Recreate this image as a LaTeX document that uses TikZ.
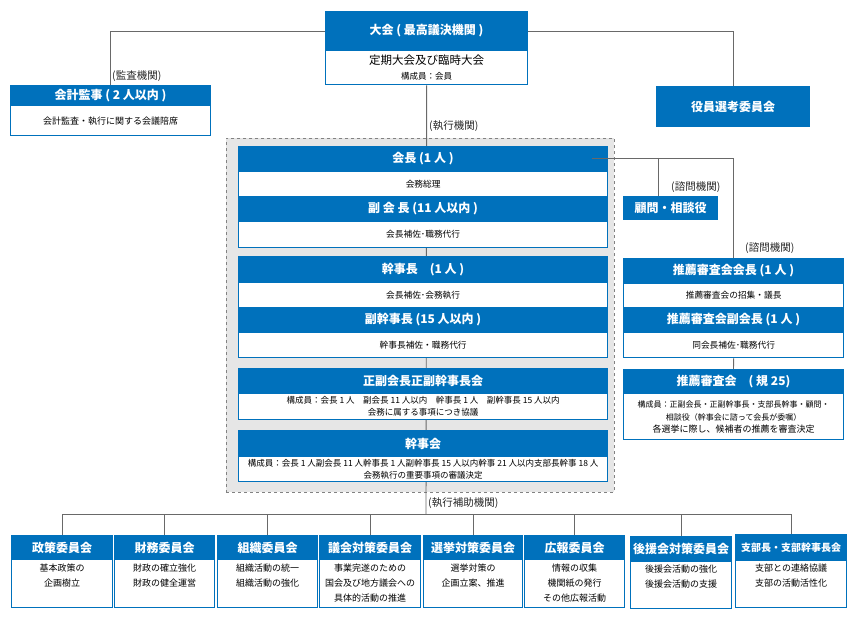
\documentclass[tikz,border=0pt]{standalone}
\usepackage{fontspec}
\setmainfont{Noto Sans CJK JP}
\definecolor{bl}{RGB}{0,113,188}
\definecolor{ln}{RGB}{105,105,105}
\definecolor{gr}{RGB}{230,230,230}
\definecolor{dl}{RGB}{130,130,130}
\begin{document}
\begin{tikzpicture}[x=1pt,y=-1pt,
  hdr/.style={rectangle, fill=bl, draw=bl, line width=1pt, text=white, inner sep=0pt, anchor=north west, font=\bfseries\fontsize{12}{14}\selectfont},
  bdy/.style={rectangle, fill=white, draw=bl, line width=1.3pt, inner sep=0pt, anchor=north west, align=center, font=\fontsize{8.7}{13}\selectfont},
  txt/.style={inner sep=0pt, align=center, anchor=north, font=\fontsize{9}{15}\selectfont},
  conn/.style={draw=ln, line width=0.9pt},
  lbl/.style={inner sep=0pt, anchor=west, font=\fontsize{10.5}{12}\selectfont, text=black!85}]
\useasboundingbox (0,0) rectangle (850,620);
\fill[white] (0,0) rectangle (850,620);

% grey executive area
\node[rectangle, fill=gr, draw=dl, dashed, line width=0.8pt, minimum width=388pt, minimum height=354pt, anchor=north west, inner sep=0pt] (exec) at (226,138) {};

% ---- top: 大会
\node[hdr, minimum width=202pt, minimum height=39pt] (taiH) at (325,11) {大会 ( 最高議決機関 )};
\node[bdy, minimum width=202pt, minimum height=34pt] (taiB) at (325,50) {{\fontsize{11.5}{15}\selectfont 定期大会及び臨時大会}\\[2pt]{\fontsize{8.5}{10}\selectfont 構成員：会員}};

% ---- audit
\node[hdr, minimum width=200pt, minimum height=20pt] (audH) at (10,85) {会計監事 ( 2 人以内 )};
\node[bdy, minimum width=200pt, minimum height=30pt, font=\fontsize{9}{12}\selectfont] (audB) at (10,105) {会計監査・執行に関する会議陪席};

% ---- 役員選考委員会
\node[hdr, minimum width=153pt, minimum height=40pt] (yaku) at (656,86) {役員選考委員会};

% ---- connectors (behind boxes)
\coordinate (j) at (426,514);
\draw[conn] (taiH.west) -| (audH.north);
\draw[conn] (taiH.east) -| (yaku.north);
\draw[conn] (taiB.south) -- (j);

% ---- executive boxes
\node[hdr, minimum width=369pt, minimum height=25pt] (kaichoH) at (238,146) {会長 (1 人 )};
\node[bdy, minimum width=369pt, minimum height=25pt] (kaichoB) at (238,171) {会務総理};
\node[hdr, minimum width=369pt, minimum height=25pt] (fukuH) at (238,196) {副 会 長 (11 人以内 )};
\node[bdy, minimum width=369pt, minimum height=26pt] (fukuB) at (238,221) {会長補佐･職務代行};

\node[hdr, minimum width=369pt, minimum height=26pt] (kanjiH) at (238,256) {幹事長　(1 人 )};
\node[bdy, minimum width=369pt, minimum height=25pt] (kanjiB) at (238,282) {会長補佐･会務執行};
\node[hdr, minimum width=369pt, minimum height=25pt] (fkanH) at (238,307) {副幹事長 (15 人以内 )};
\node[bdy, minimum width=369pt, minimum height=25pt] (fkanB) at (238,332) {幹事長補佐・職務代行};

\node[hdr, minimum width=369pt, minimum height=25pt] (seiH) at (238,368) {正副会長正副幹事長会};
\node[bdy, minimum width=369pt, minimum height=26pt, font=\fontsize{8.5}{13}\selectfont] (seiB) at (238,393) {構成員：会長 1 人　副会長 11 人以内　幹事長 1 人　副幹事長 15 人以内\\[-1pt]会務に属する事項につき協議};

\node[hdr, minimum width=369pt, minimum height=26pt] (kjkH) at (238,430) {幹事会};
\node[bdy, minimum width=369pt, minimum height=25pt, font=\fontsize{8.5}{13}\selectfont] (kjkB) at (238,456) {構成員：会長 1 人副会長 11 人幹事長 1 人副幹事長 15 人以内幹事 21 人以内支部長幹事 18 人\\[-1pt]会務執行の重要事項の審議決定};

% ---- advisory
\node[hdr, minimum width=94pt, minimum height=23pt] (komon) at (623,196) {顧問・相談役};

\node[hdr, minimum width=220pt, minimum height=25pt] (suiH) at (623,258) {推薦審査会会長 (1 人 )};
\node[bdy, minimum width=220pt, minimum height=24pt] (suiB) at (623,283) {推薦審査会の招集・議長};
\node[hdr, minimum width=220pt, minimum height=25pt] (sfH) at (623,307) {推薦審査会副会長 (1 人 )};
\node[bdy, minimum width=220pt, minimum height=25pt] (sfB) at (623,332) {同会長補佐･職務代行};

\node[hdr, minimum width=220pt, minimum height=24pt] (sskH) at (623,369) {推薦審査会　( 規 25)};
\node[bdy, minimum width=220pt, minimum height=46pt] (sskB) at (623,393) {{\fontsize{8}{13}\selectfont 構成員：正副会長・正副幹事長・支部長幹事・顧問・}\\[0pt]{\fontsize{8}{13}\selectfont 相談役（幹事会に諮って会長が委嘱）}\\[-1pt]{\fontsize{9}{12}\selectfont 各選挙に際し、候補者の推薦を審査決定}};

\coordinate (rc) at (592,158);
\coordinate (kc) at (658,158);
\draw[conn] (rc) -- (suiH.north |- rc) -- (suiH.north);
\draw[conn] (kc) -- (kc |- komon.north);
\draw[conn] (sfB.south) -- (sskH.north);

% ---- bottom committees
\node[hdr, minimum width=101pt, minimum height=24pt] (b1) at (11,535) {政策委員会};
\node[bdy, minimum width=101pt, minimum height=48pt] (b1b) at (11,559) {};
\node[hdr, minimum width=100pt, minimum height=24pt] (b2) at (114,535) {財務委員会};
\node[bdy, minimum width=100pt, minimum height=48pt] (b2b) at (114,559) {};
\node[hdr, minimum width=100pt, minimum height=24pt] (b3) at (217,535) {組織委員会};
\node[bdy, minimum width=100pt, minimum height=48pt] (b3b) at (217,559) {};
\node[hdr, minimum width=101pt, minimum height=24pt] (b4) at (319,535) {議会対策委員会};
\node[bdy, minimum width=101pt, minimum height=48pt] (b4b) at (319,559) {};
\node[hdr, minimum width=99pt, minimum height=24pt] (b5) at (423,535) {選挙対策委員会};
\node[bdy, minimum width=99pt, minimum height=48pt] (b5b) at (423,559) {};
\node[hdr, minimum width=100pt, minimum height=24pt] (b6) at (524,535) {広報委員会};
\node[bdy, minimum width=100pt, minimum height=48pt] (b6b) at (524,559) {};
\node[hdr, minimum width=101pt, minimum height=25pt] (b7) at (630,536) {後援会対策委員会};
\node[bdy, minimum width=101pt, minimum height=47pt] (b7b) at (630,561) {};
\node[hdr, minimum width=111pt, minimum height=26pt, font=\bfseries\fontsize{10}{12}\selectfont] (b8) at (735,534) {支部長・支部幹事長会};
\node[bdy, minimum width=111pt, minimum height=47pt] (b8b) at (735,560) {};

\node[txt] (t1) at ([yshift=-4.5pt]b1b.north) {基本政策の\\企画樹立};
\node[txt] (t2) at ([yshift=-4.5pt]b2b.north) {財政の確立強化\\財政の健全運営};
\node[txt] (t3) at ([yshift=-4.5pt]b3b.north) {組織活動の統一\\組織活動の強化};
\node[txt] (t4) at ([yshift=-4.5pt]b4b.north) {事業完遂のための\\国会及び地方議会への\\具体的活動の推進};
\node[txt] (t5) at ([yshift=-4.5pt]b5b.north) {選挙対策の\\企画立案、推進};
\node[txt] (t6) at ([yshift=-4.5pt]b6b.north) {情報の収集\\機関紙の発行\\その他広報活動};
\node[txt] (t7) at ([yshift=-3.5pt]b7b.north) {後援会活動の強化\\後援会活動の支援};
\node[txt] (t8) at ([yshift=-3.5pt]b8b.north) {支部との連絡協議\\支部の活動活性化};

\draw[conn] (b1.north |- j) -- (b8.north |- j);
\foreach \n in {b1,b2,b3,b4,b5,b6,b7,b8}{\draw[conn] (\n.north |- j) -- (\n.north);}

% line over 会長 header
\draw[conn] (rc) -- (kaichoH.east |- rc);

% ---- labels
\node[lbl] (l1) at (112,76) {(監査機関)};
\node[lbl] (l2) at (429,126) {(執行機関)};
\node[lbl] (l3) at (671,187) {(諮問機関)};
\node[lbl] (l4) at (745,248) {(諮問機関)};
\node[lbl] (l5) at (428,503) {(執行補助機関)};
\end{tikzpicture}
\end{document}
